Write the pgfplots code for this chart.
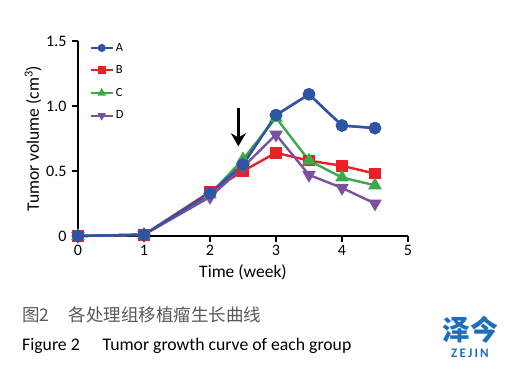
\documentclass[border=0pt]{standalone}
\usepackage{pgfplots}
\pgfplotsset{compat=1.18}
\usetikzlibrary{arrows.meta}
\usepackage{fontspec}
\setmainfont{Carlito}
\newfontfamily\cjk{Noto Sans CJK SC}
\definecolor{cA}{RGB}{46,84,166}
\definecolor{cB}{RGB}{236,32,38}
\definecolor{cC}{RGB}{58,170,74}
\definecolor{cD}{RGB}{123,80,160}
\definecolor{logo}{RGB}{30,110,190}
\begin{document}
\begin{tikzpicture}[x=1pt,y=1pt]
\path[use as bounding box] (0,0) rectangle (507,368);
\begin{axis}[
  at={(78pt,132pt)}, anchor=origin,
  scale only axis, width=330pt, height=195pt,
  xmin=0, xmax=5, ymin=0, ymax=1.5,
  axis x line*=bottom, axis y line*=left,
  axis line style={line width=2.4pt, -},
  clip=false,
  xtick={0,1,2,3,4,5},
  ytick={0,0.5,1.0,1.5},
  yticklabels={0,0.5,1.0,1.5},
  tick style={line width=2pt, black},
  tick align=outside,
  major tick length=6pt,
  /pgf/number format/assume math mode=true,
  ticklabel style={font=\fontsize{16}{18}\selectfont},
  yticklabel style={xshift=-2pt},
  xlabel={Time (week)}, ylabel={Tumor volume (cm\textsuperscript{3})},
  label style={font=\fontsize{17.5}{20}\selectfont},
  xlabel style={yshift=-2pt},
  ylabel style={yshift=-2pt},
  every axis plot/.append style={line width=2.4pt},
  legend style={at={(0.035,1.0)}, anchor=north west, draw=none, fill=none,
    font=\fontsize{12.5}{14}\selectfont, row sep=9pt, inner sep=0pt,
    /tikz/every even column/.append style={column sep=1pt}},
  legend cell align=left,
  legend image code/.code={\draw[line width=2pt, mark size=3pt, mark repeat=2,mark phase=2] plot coordinates {(0pt,0pt) (11pt,0pt) (22pt,0pt)};},
]
\addplot[color=cA, mark=*, mark size=5pt] coordinates {(0,0) (1,0.01) (2,0.33) (2.5,0.55) (3,0.93) (3.5,1.09) (4,0.85) (4.5,0.83)};
\addlegendentry{A}
\addplot[color=cB, mark=square*, mark size=4.6pt] coordinates {(0,0) (1,0.01) (2,0.34) (2.5,0.50) (3,0.64) (3.5,0.58) (4,0.54) (4.5,0.48)};
\addlegendentry{B}
\addplot[color=cC, mark=triangle*, mark size=5.5pt] coordinates {(0,0) (1,0.01) (2,0.32) (2.5,0.59) (3,0.91) (3.5,0.58) (4,0.45) (4.5,0.39)};
\addlegendentry{C}
\addplot[color=cD, mark=triangle*, mark options={rotate=180}, mark size=5.5pt] coordinates {(0,0) (1,0.01) (2,0.30) (2.5,0.53) (3,0.78) (3.5,0.47) (4,0.37) (4.5,0.25)};
\addlegendentry{D}
\addplot[color=cA, mark=*, mark size=5pt, forget plot] coordinates {(0,0) (1,0.01) (2,0.33) (2.5,0.55) (3,0.93) (3.5,1.09) (4,0.85) (4.5,0.83)};
\draw[line width=3.6pt, -{Stealth[length=13pt,width=15pt]}] (axis cs:2.43,0.985) -- (axis cs:2.43,0.69);
\end{axis}
\node[anchor=base west, inner sep=0pt, text=black!65, font=\cjk\fontsize{17.5}{20}\selectfont] at (22,47) {图2\hspace{1.1em}各处理组移植瘤生长曲线};
\node[anchor=base west, inner sep=0pt, font=\fontsize{17.7}{20}\selectfont] at (22,18) {Figure 2\hspace{1.3em}Tumor growth curve of each group};
\node[anchor=center, inner sep=0pt, text=logo, font=\cjk\bfseries\fontsize{28}{30}\selectfont] at (470,38) {泽今};
\node[anchor=center, inner sep=0pt, text=logo, font=\bfseries\fontsize{13}{14}\selectfont] at (470,15) {Z\,E\,J\,I\,N};
\end{tikzpicture}
\end{document}
